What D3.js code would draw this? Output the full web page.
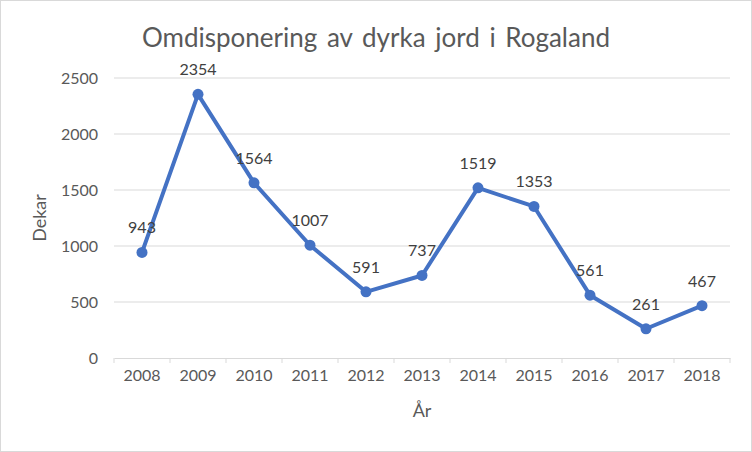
<html>
<head>
<script src="https://cdn.jsdelivr.net/npm/d3@7"></script>
<style>
  body { margin: 0; background: #fff; }
  text { font-family: Lato, "Open Sans", sans-serif; }
</style>
</head>
<body>
<script>
  var years = ["2008", "2009", "2010", "2011", "2012", "2013", "2014", "2015", "2016", "2017", "2018"];
  var dekar = [943, 2354, 1564, 1007, 591, 737, 1519, 1353, 561, 261, 467];
  var yTicks = [0, 500, 1000, 1500, 2000, 2500];

  var width = 752, height = 452,
      plotLeft = 114, plotRight = 730, plotTop = 78, plotBottom = 358;

  var svg = d3.select("body").append("svg")
    .attr("width", width)
    .attr("height", height);

  svg.append("rect")
    .attr("x", 0.5).attr("y", 0.5)
    .attr("width", width - 1).attr("height", height - 1)
    .attr("fill", "#fff").attr("stroke", "#d9d9d9");

  var x = d3.scaleBand().domain(years).range([plotLeft, plotRight]);
  var y = d3.scaleLinear().domain([0, 2500]).range([plotBottom, plotTop]);

  // gridlines
  svg.append("g").selectAll("line").data(yTicks.slice(1)).enter().append("line")
    .attr("x1", plotLeft).attr("x2", plotRight)
    .attr("y1", function(d) { return y(d); })
    .attr("y2", function(d) { return y(d); })
    .attr("stroke", "#d9d9d9").attr("stroke-width", 1);

  // y axis labels
  var yAxis = svg.append("g")
    .attr("transform", "translate(" + plotLeft + ",0)")
    .call(d3.axisLeft(y).tickValues(yTicks).tickFormat(d3.format("d")).tickSize(0).tickPadding(16));
  yAxis.select(".domain").remove();
  yAxis.selectAll("text").attr("fill", "#595959").style("font-size", "16px");

  // x axis
  var xAxis = svg.append("g")
    .attr("transform", "translate(0," + plotBottom + ")")
    .call(d3.axisBottom(x).tickSizeOuter(0).tickSizeInner(0).tickPadding(12));
  xAxis.select(".domain").attr("stroke", "#d9d9d9");
  xAxis.selectAll("text").attr("fill", "#595959").style("font-size", "16px");

  // x tick marks at band boundaries
  svg.append("g").selectAll("line").data(years.concat(["end"])).enter().append("line")
    .attr("x1", function(d, i) { return plotLeft + i * x.bandwidth(); })
    .attr("x2", function(d, i) { return plotLeft + i * x.bandwidth(); })
    .attr("y1", plotBottom).attr("y2", plotBottom + 5)
    .attr("stroke", "#d9d9d9");

  var cx = function(d, i) { return x(years[i]) + x.bandwidth() / 2; };

  var line = d3.line()
    .x(cx)
    .y(function(d) { return y(d); });

  svg.append("path")
    .datum(dekar)
    .attr("d", line)
    .attr("fill", "none")
    .attr("stroke", "#4472c4")
    .attr("stroke-width", 4)
    .attr("stroke-linejoin", "round")
    .attr("stroke-linecap", "round");

  svg.append("g").selectAll("circle").data(dekar).enter().append("circle")
    .attr("cx", cx)
    .attr("cy", function(d) { return y(d); })
    .attr("r", 5.5)
    .attr("fill", "#4472c4");

  svg.append("g").selectAll("text").data(dekar).enter().append("text")
    .attr("x", cx)
    .attr("y", function(d) { return y(d) - 19; })
    .attr("text-anchor", "middle")
    .attr("fill", "#404040")
    .style("font-size", "16px")
    .text(function(d) { return d; });

  svg.append("text")
    .attr("x", 376).attr("y", 47)
    .attr("text-anchor", "middle")
    .attr("fill", "#595959")
    .style("font-size", "26px")
    .style("word-spacing", "3px")
    .text("Omdisponering av dyrka jord i Rogaland");

  svg.append("text")
    .attr("transform", "translate(46," + ((plotTop + plotBottom) / 2) + ") rotate(-90)")
    .attr("text-anchor", "middle")
    .attr("fill", "#595959")
    .style("font-size", "18px")
    .text("Dekar");

  svg.append("text")
    .attr("x", (plotLeft + plotRight) / 2).attr("y", 417)
    .attr("text-anchor", "middle")
    .attr("fill", "#595959")
    .style("font-size", "18px")
    .text("År");
</script>
</body>
</html>
